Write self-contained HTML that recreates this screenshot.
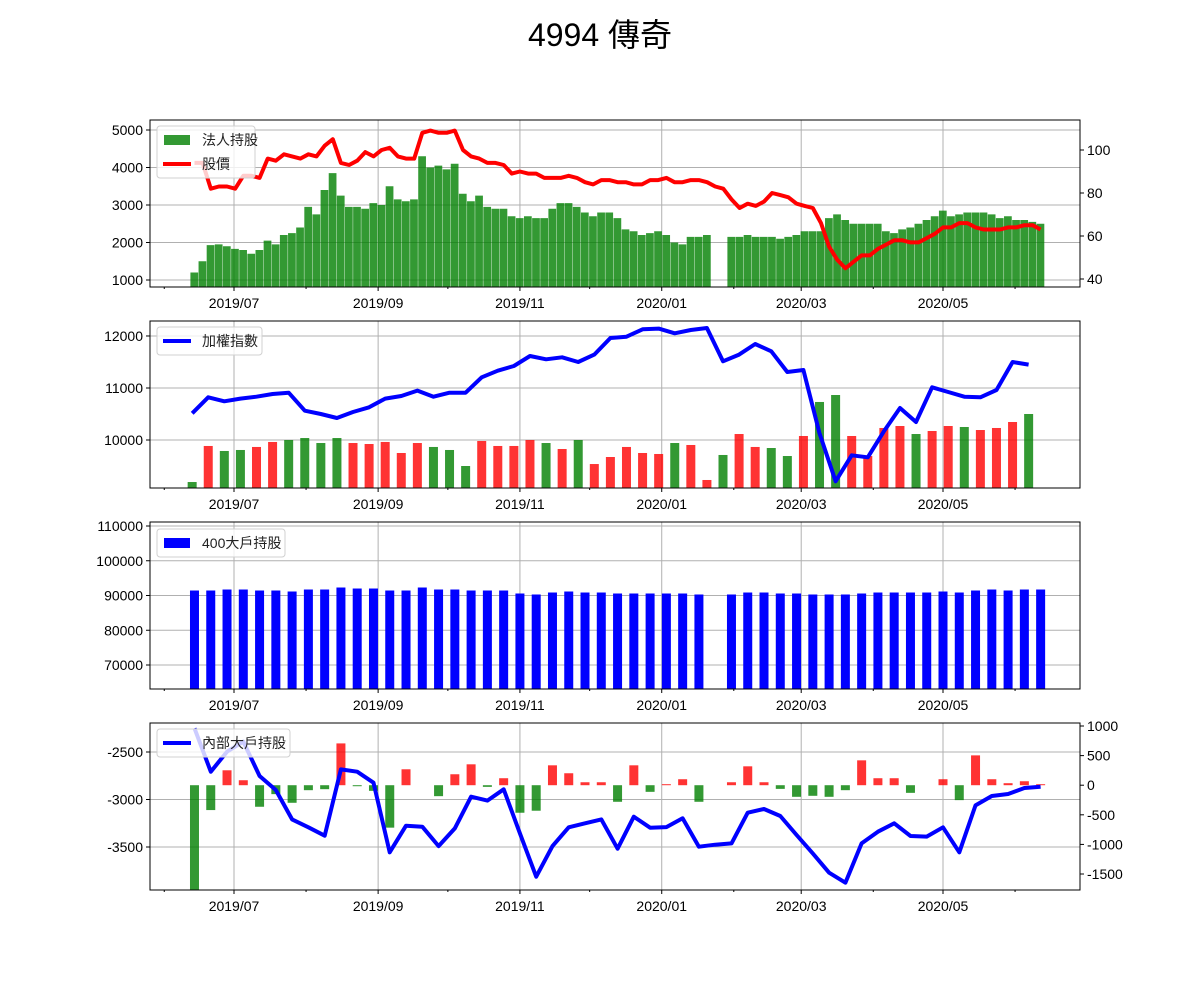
<!DOCTYPE html>
<html><head><meta charset="utf-8">
<style>
body{margin:0;background:#fff;}
svg text{font-family:"Liberation Sans","Noto Sans CJK TC",sans-serif;}
</style></head>
<body>
<svg id="chart" width="1200" height="1000" xmlns="http://www.w3.org/2000/svg">
<rect width="1200" height="1000" fill="#fff"/>
<text x="600" y="46" text-anchor="middle" font-size="32" fill="#000">4994 傳奇</text>
</svg>
<script>
// ---- Panel 1 data: 法人持股 / 股價 (every 3.5 days from start)
const holdStart = '2019-06-14';
const holdStepDays = 3.5;
const holdings = [1200,1500,1930,1950,1900,1830,1800,1700,1800,2050,
1950,2200,2250,2400,2950,2750,3400,3850,3250,2950,
2950,2900,3050,3000,3500,3150,3100,3150,4300,4000,
4050,3950,4100,3300,3100,3250,2950,2900,2900,2700,
2650,2700,2650,2650,2900,3050,3050,2950,2800,2700,
2800,2800,2650,2350,2300,2200,2250,2300,2200,2000,
1950,2150,2150,2200,null,null,2150,2150,2200,2150,
2150,2150,2100,2150,2200,2300,2300,2300,2650,2750,
2600,2500,2500,2500,2500,2300,2250,2350,2400,2500,
2600,2700,2850,2700,2750,2800,2800,2800,2750,2650,
2700,2600,2600,2550,2500];
const prices = [94,94,82,83,83,82,88,88,87,96,
95,98,97,96,98,97,102,105,94,93,
95,99,97,100,101,97,96,96,108,109,
108,108,109,100,97,96,94,94,93,89,
90,89,89,87,87,87,88,87,85,84,
86,86,85,85,84,84,86,86,87,85,
85,86,86,85,83,82,77,73,75,74,
76,80,79,78,75,74,73,66,55,49,
45,48,51,51,54,56,58,58,57,57,
59,61,64,64,66,66,64,63,63,63,
64,64,65,65,63];
// ---- Panel 2 data: 加權指數 (weekly)
const taiexStart = '2019-06-13';
const taiexStepDays = 6.92;
const taiex = [10514,10821,10744,10795,10833,10885,10910,10564,10500,10423,
10538,10628,10795,10846,10949,10833,10910,10910,11205,11333,
11423,11615,11551,11590,11500,11641,11962,11987,12128,12141,
12051,12115,12154,11513,11641,11846,11705,11308,11346,10128,
9205,9705,9667,10167,10615,10346,11013,10923,10833,10821,
10962,11500,11449];
const taiexBars = [9192,9885,9789,9808,9866,9962,10000,10038,9942,10038,
9942,9923,9962,9750,9942,9866,9808,9500,9981,9885,
9885,10000,9942,9827,10000,9538,9673,9866,9750,9731,
9942,9904,9231,9712,10115,9866,9846,9692,10077,10731,
10865,10077,9692,10231,10269,10115,10173,10269,10250,10192,
10231,10346,10500];
const taiexBarColors = ['g','r','g','g','r','r','g','g','g','g',
'r','r','r','r','r','g','g','g','r','r',
'r','r','g','r','g','r','r','r','r','r',
'g','r','r','g','r','r','g','g','r','g',
'g','r','r','r','r','g','r','r','g','r',
'r','r','g'];
// ---- Panel 3 data: 400大戶持股 (weekly)
const bigStart = '2019-06-14';
const big400 = [91437,91437,91724,91724,91437,91437,91150,91724,91724,92300,
92010,92010,91437,91437,92300,91724,91724,91437,91437,91437,
90575,90290,90860,91150,90860,90860,90575,90575,90575,90575,
90575,90290,null,90290,90860,90860,90575,90575,90290,90290,
90290,90575,90860,90860,90860,90860,91150,90860,91437,91724,
91437,91724,91724];
// ---- Panel 4 data: 內部大戶持股 (weekly)
const insider = [-2251,-2707,-2497,-2391,-2753,-2900,-3209,-3293,-3381,-2683,
-2707,-2823,-3556,-3276,-3286,-3490,-3304,-2970,-3012,-2893,
-3356,-3813,-3490,-3293,-3251,-3209,-3518,-3181,-3297,-3290,
-3198,-3497,-3476,-3462,-3139,-3100,-3174,-3374,-3567,-3770,
-3876,-3462,-3339,-3251,-3384,-3391,-3293,-3556,-3062,-2963,
-2942,-2879,-2865];
const insiderChange = [-1900,-420,252,84,-364,-151,-297,-84,-67,706,
-17,-95,-717,269,0,-185,185,353,-28,118,
-465,-431,336,202,50,50,-280,336,-112,17,
101,-280,0,50,319,50,-62,-196,-179,-196,
-84,420,118,118,-129,0,101,-252,504,101,
34,67,17];
const xTickLabels = ['2019/07','2019/09','2019/11','2020/01','2020/03','2020/05'];
const xTickDates = ['2019-07-01','2019-09-01','2019-11-01','2020-01-01','2020-03-01','2020-05-01'];
const xMinorDates = ['2019-06-01','2019-08-01','2019-10-01','2019-12-01','2020-02-01','2020-04-01','2020-06-01'];
const p1LeftTicks = [1000,2000,3000,4000,5000];
const p1RightTicks = [40,60,80,100];
const p2Ticks = [10000,11000,12000];
const p3Ticks = [70000,80000,90000,100000,110000];
const p4LeftTicks = [-3500,-3000,-2500];
const p4RightTicks = [-1500,-1000,-500,0,500,1000];

const svg = document.getElementById('chart');
const NS = 'http://www.w3.org/2000/svg';
const X0 = 150, X1 = 1080;
const D0 = Date.UTC(2019,6,1);
function dayOf(s){const p=s.split('-');return (Date.UTC(+p[0],+p[1]-1,+p[2])-D0)/864e5;}
function xDay(d){return 234 + d*2.3246;}
function yScale(top,bottom,vmin,vmax){return v=>bottom-(v-vmin)/(vmax-vmin)*(bottom-top);}
function mk(tag,attrs,parent){const e=document.createElementNS(NS,tag);for(const k in attrs)e.setAttribute(k,attrs[k]);(parent||svg).appendChild(e);return e;}
const GREEN='rgba(0,128,0,0.8)', RED='rgba(255,0,0,0.8)';

function panel(name,top,bottom,leftTicks,yL,rightTicks,yR){
  const g=mk('g',{});
  
  
  const cp=mk('clipPath',{id:'clip-'+name},g);
  mk('rect',{x:X0,y:top,width:X1-X0,height:bottom-top},cp);
  xTickDates.forEach(d=>{const x=xDay(dayOf(d));
    const l=mk('line',{x1:x,x2:x,y1:top,y2:bottom,stroke:'#b0b0b0','stroke-width':1},g);
    
    });
  leftTicks.forEach(v=>{const y=yL(v);
    const l=mk('line',{x1:X0,x2:X1,y1:y,y2:y,stroke:'#b0b0b0','stroke-width':1},g);
    
    
    const t=mk('text',{x:X0-7,y:y+5,'text-anchor':'end','font-size':14,fill:'#000'},g);t.textContent=v;
    
    
    mk('line',{x1:X0-4,x2:X0,y1:y,y2:y,stroke:'#000'},g);});
  if(rightTicks){rightTicks.forEach(v=>{const y=yR(v);
    const t=mk('text',{x:X1+7,y:y+5,'font-size':14,fill:'#000'},g);t.textContent=v;
    
    
    mk('line',{x1:X1,x2:X1+4,y1:y,y2:y,stroke:'#000'},g);});}
  xTickDates.forEach((d,i)=>{const x=xDay(dayOf(d));
    mk('line',{x1:x,x2:x,y1:bottom,y2:bottom+4,stroke:'#000'},g);
    const t=mk('text',{x:x,y:bottom+21,'text-anchor':'middle','font-size':14,fill:'#000'},g);t.textContent=xTickLabels[i];
    
    });
  xMinorDates.forEach(d=>{const x=xDay(dayOf(d));mk('line',{x1:x,x2:x,y1:bottom,y2:bottom+2,stroke:'#000'},g);});
  const marks=mk('g',{'clip-path':'url(#clip-'+name+')'},g);
  return {g,marks};
}
function frame(g,top,bottom){const r=mk('rect',{x:X0,y:top,width:X1-X0,height:bottom-top,fill:'none',stroke:'#000','stroke-width':1},g);
  
  }
function legend(g,top,w,items){
  const h=items.length*24+4;
  const lg=mk('g',{},g);
  
  
  mk('rect',{x:157,y:top,width:w,height:h,rx:3,fill:'rgba(255,255,255,0.8)',stroke:'#d0d0d0'},lg);
  items.forEach((it,i)=>{const cy=top+14+i*24;
    if(it.type==='patch')mk('rect',{x:164,y:cy-5,width:26,height:10,fill:it.color},lg);
    else mk('line',{x1:163,x2:191,y1:cy,y2:cy,stroke:it.color,'stroke-width':4},lg);
    const t=mk('text',{x:202,y:cy+5,'font-size':14,fill:'#222'},lg);t.textContent=it.label;
    
    });
}
function linePath(parent,vals,xf,yf,color,name){
  let d='';vals.forEach((v,i)=>{if(v==null)return;d+=(d?'L':'M')+xf(i).toFixed(1)+','+yf(v).toFixed(1);});
  const p=mk('path',{d:d,fill:'none',stroke:color,'stroke-width':4,'stroke-linejoin':'round'},parent);
  
  
}

// Panel 1
(function(){
  const top=120,bottom=287;
  const yL=yScale(top,bottom,813.3,5266.7), yR=yScale(top,bottom,36.28,113.95);
  const {g,marks}=panel('institutional-panel',top,bottom,p1LeftTicks,yL,p1RightTicks,yR);
  const s=dayOf(holdStart);
  const xf=i=>xDay(s+i*holdStepDays);
  const bw=holdStepDays*2.3246;
  holdings.forEach((v,i)=>{if(v==null)return;
    const r=mk('rect',{x:xf(i)-bw/2,y:yL(v),width:bw-0.4,height:bottom-yL(v),fill:GREEN},marks);
    
    });
  linePath(marks,prices,xf,yR,'#ff0000','price-line');
  frame(g,top,bottom);
  legend(g,126,98,[{type:'patch',color:GREEN,label:'法人持股'},{type:'line',color:'#ff0000',label:'股價'}]);
})();
// Panel 2
(function(){
  const top=321,bottom=488;
  const yL=yScale(top,bottom,9077,12288);
  const {g,marks}=panel('taiex-panel',top,bottom,p2Ticks,yL,null,null);
  const s=dayOf(taiexStart);
  const xf=i=>xDay(s+i*taiexStepDays);
  taiexBars.forEach((v,i)=>{
    const r=mk('rect',{x:xf(i)-4.5,y:yL(v),width:9,height:bottom-yL(v),fill:taiexBarColors[i]==='r'?RED:GREEN},marks);
    
    });
  linePath(marks,taiex,xf,yL,'#0000ff','taiex-line');
  frame(g,top,bottom);
  legend(g,327,105,[{type:'line',color:'#0000ff',label:'加權指數'}]);
})();
// Panel 3
(function(){
  const top=522,bottom=689;
  const yL=yScale(top,bottom,63094,111151);
  const {g,marks}=panel('big-holder-panel',top,bottom,p3Ticks,yL,null,null);
  const s=dayOf(bigStart);
  const xf=i=>xDay(s+i*7);
  big400.forEach((v,i)=>{if(v==null)return;
    const r=mk('rect',{x:xf(i)-4.5,y:yL(v),width:9,height:bottom-yL(v),fill:'#0000ff'},marks);
    
    });
  frame(g,top,bottom);
  legend(g,529,128,[{type:'patch',color:'#0000ff',label:'400大戶持股'}]);
})();
// Panel 4
(function(){
  const top=723,bottom=890;
  const yL=yScale(top,bottom,-3952.6,-2194.7), yR=yScale(top,bottom,-1770,1050.7);
  const {g,marks}=panel('insider-panel',top,bottom,p4LeftTicks,yL,p4RightTicks,yR);
  const s=dayOf(bigStart);
  const xf=i=>xDay(s+i*7);
  insiderChange.forEach((v,i)=>{if(!v)return;
    const y0=yR(0),y1=yR(v);
    const r=mk('rect',{x:xf(i)-4.5,y:Math.min(y0,y1),width:9,height:Math.abs(y1-y0),fill:v>0?RED:GREEN},marks);
    
    });
  linePath(marks,insider,xf,yL,'#0000ff','insider-line');
  frame(g,top,bottom);
  legend(g,729,133,[{type:'line',color:'#0000ff',label:'內部大戶持股'}]);
})();
</script>
</body></html>
